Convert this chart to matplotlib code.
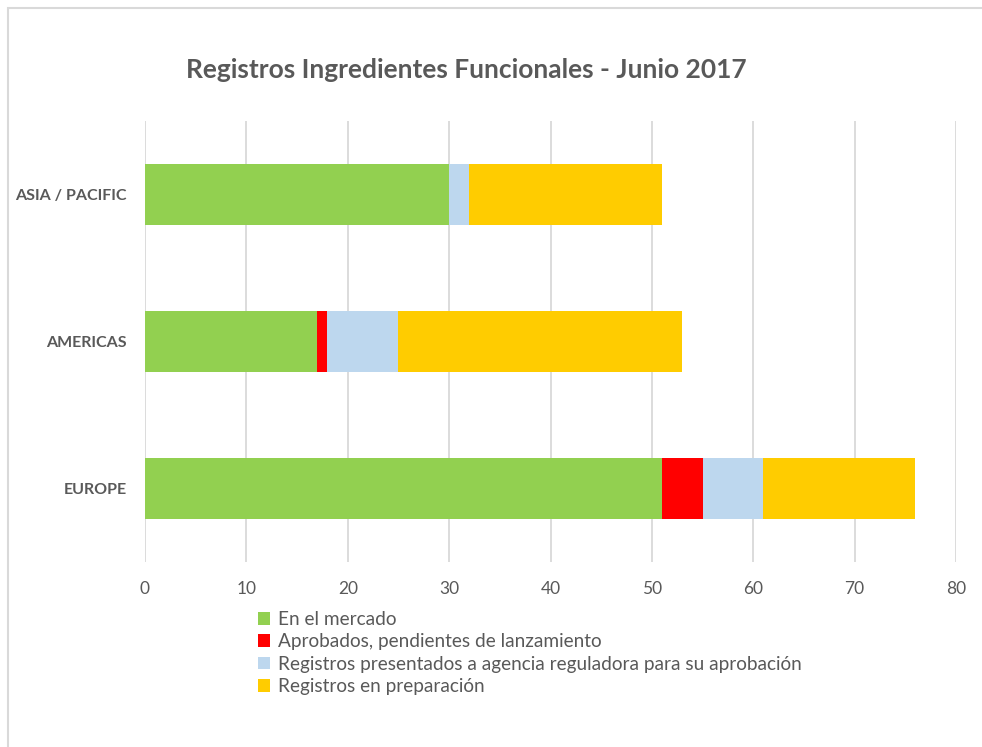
import matplotlib.pyplot as plt
import numpy as np
from matplotlib.patches import Rectangle

plt.rcParams['font.family'] = ['Lato', 'DejaVu Sans']

regions = ["EUROPE", "AMERICAS", "ASIA / PACIFIC"]
series = ["En el mercado",
          "Aprobados, pendientes de lanzamiento",
          "Registros presentados a agencia reguladora para su aprobación",
          "Registros en preparación"]
en_mercado = [51, 17, 30]
aprobados = [4, 1, 0]
presentados = [6, 7, 2]
preparacion = [15, 28, 19]
colors = ["#92D050", "#FF0000", "#BDD7EE", "#FFCC00"]

fig = plt.figure(figsize=(9.82, 7.47), dpi=100)
ax = fig.add_axes([145 / 982, 1 - 562 / 747, 811 / 982, 441 / 747])

y = np.arange(len(regions))
left = np.zeros(len(regions))
bars = []
for vals, lab, col in zip([en_mercado, aprobados, presentados, preparacion], series, colors):
    b = ax.barh(y, vals, left=left, height=0.41, color=col, label=lab, zorder=3)
    bars.append(b)
    left = left + np.array(vals)

ax.set_xlim(0, 80)
ax.set_ylim(-0.5, 2.5)
ax.set_xticks(range(0, 81, 10))
ax.set_yticks(y)
ax.set_yticklabels(regions, fontweight='bold', fontsize=11.5, color='#595959')
ax.tick_params(axis='x', labelsize=12.5, colors='#595959', length=0, pad=14)
ax.tick_params(axis='y', length=0, pad=13)
ax.grid(axis='x', color='#D9D9D9', linewidth=1.3, zorder=0)
for s in ax.spines.values():
    s.set_visible(False)

fig.text(466 / 982, 1 - 70 / 747, "Registros Ingredientes Funcionales - Junio 2017",
         ha='center', va='center', fontsize=19, fontweight='bold', color='#595959')

leg = fig.legend(handles=bars, loc='upper left', bbox_to_anchor=(258 / 982, 1 - 611 / 747),
                 frameon=False, fontsize=13.7, handlelength=0.65, handleheight=0.65,
                 handletextpad=0.4, labelspacing=0.28, borderaxespad=0, borderpad=0)
for t in leg.get_texts():
    t.set_color('#595959')

fig.patches.append(Rectangle((8 / 982, -0.1), 1.2, 1 - 8 / 747 + 0.1, transform=fig.transFigure,
                             fill=False, edgecolor='#D9D9D9', linewidth=1.5))

fig.savefig("out.png", dpi=100)
